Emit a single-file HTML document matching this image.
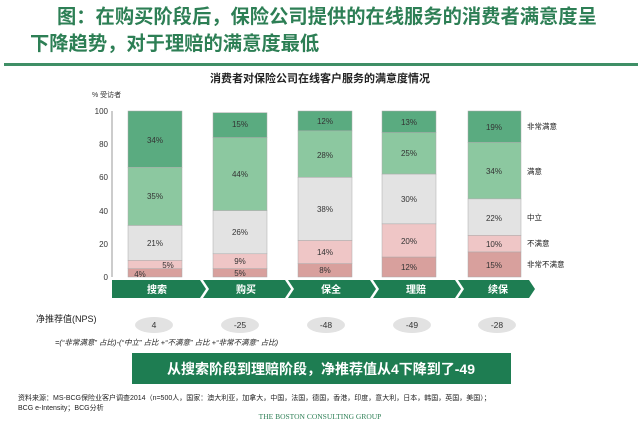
<!DOCTYPE html>
<html><head><meta charset="utf-8"><style>
body{margin:0;background:#fff;width:640px;height:420px;overflow:hidden;font-family:"Liberation Sans","Noto Sans CJK SC",sans-serif}
</style></head><body>
<svg width="640" height="420" xmlns="http://www.w3.org/2000/svg" font-family="Liberation Sans, Noto Sans CJK SC, sans-serif">
<text x="57" y="23" font-size="19.3" font-weight="bold" fill="#2d7f55">图：在购买阶段后，保险公司提供的在线服务的消费者满意度呈</text>
<text x="30" y="50" font-size="19.3" font-weight="bold" fill="#2d7f55">下降趋势，对于理赔的满意度最低</text>
<rect x="4" y="63" width="634" height="3" fill="#3f8f66"/>
<text x="320" y="82" font-size="11" font-weight="bold" text-anchor="middle" fill="#222">消费者对保险公司在线客户服务的满意度情况</text>
<text x="92" y="97" font-size="7" fill="#333">% 受访者</text>
<g font-size="8" fill="#333" text-anchor="end">
<text x="108" y="114">100</text><text x="108" y="147">80</text><text x="108" y="180">60</text><text x="108" y="214">40</text><text x="108" y="247">20</text><text x="108" y="280">0</text>
</g>
<line x1="112" y1="111" x2="112" y2="277" stroke="#999" stroke-width="1"/>
<g font-size="8" fill="#333" text-anchor="middle" stroke="#aaa" stroke-width="0.5">
<rect x="128" y="111" width="54" height="56.4" fill="#5aab80"/>
<rect x="128" y="167.4" width="54" height="58.1" fill="#8cc8a0"/>
<rect x="128" y="225.5" width="54" height="34.9" fill="#e3e3e3"/>
<rect x="128" y="260.4" width="54" height="8.3" fill="#efc6c6"/>
<rect x="128" y="268.7" width="54" height="8.3" fill="#d8a09d"/>
<rect x="213" y="112.7" width="54" height="24.9" fill="#5aab80"/>
<rect x="213" y="137.6" width="54" height="73" fill="#8cc8a0"/>
<rect x="213" y="210.6" width="54" height="43.2" fill="#e3e3e3"/>
<rect x="213" y="253.8" width="54" height="14.9" fill="#efc6c6"/>
<rect x="213" y="268.7" width="54" height="8.3" fill="#d8a09d"/>
<rect x="298" y="111" width="54" height="19.9" fill="#5aab80"/>
<rect x="298" y="130.9" width="54" height="46.5" fill="#8cc8a0"/>
<rect x="298" y="177.4" width="54" height="63.1" fill="#e3e3e3"/>
<rect x="298" y="240.5" width="54" height="23.2" fill="#efc6c6"/>
<rect x="298" y="263.7" width="54" height="13.3" fill="#d8a09d"/>
<rect x="382" y="111" width="54" height="21.6" fill="#5aab80"/>
<rect x="382" y="132.6" width="54" height="41.5" fill="#8cc8a0"/>
<rect x="382" y="174.1" width="54" height="49.8" fill="#e3e3e3"/>
<rect x="382" y="223.9" width="54" height="33.2" fill="#efc6c6"/>
<rect x="382" y="257.1" width="54" height="19.9" fill="#d8a09d"/>
<rect x="468" y="111" width="53" height="31.5" fill="#5aab80"/>
<rect x="468" y="142.5" width="53" height="56.4" fill="#8cc8a0"/>
<rect x="468" y="198.9" width="53" height="36.5" fill="#e3e3e3"/>
<rect x="468" y="235.4" width="53" height="16.6" fill="#efc6c6"/>
<rect x="468" y="252" width="53" height="25" fill="#d8a09d"/>
</g>
<g font-size="8" fill="#333" text-anchor="middle">
<text x="155" y="143">34%</text><text x="155" y="199">35%</text><text x="155" y="246">21%</text><text x="168" y="268">5%</text><text x="140" y="277">4%</text>
<text x="240" y="127">15%</text><text x="240" y="177">44%</text><text x="240" y="235">26%</text><text x="240" y="264">9%</text><text x="240" y="276">5%</text>
<text x="325" y="124">12%</text><text x="325" y="158">28%</text><text x="325" y="212">38%</text><text x="325" y="255">14%</text><text x="325" y="273">8%</text>
<text x="409" y="125">13%</text><text x="409" y="156">25%</text><text x="409" y="202">30%</text><text x="409" y="244">20%</text><text x="409" y="270">12%</text>
<text x="494" y="130">19%</text><text x="494" y="174">34%</text><text x="494" y="221">22%</text><text x="494" y="247">10%</text><text x="494" y="268">15%</text>
</g>
<g font-size="7.5" fill="#222">
<text x="527" y="129">非常满意</text><text x="527" y="174">满意</text><text x="527" y="220">中立</text><text x="527" y="246">不满意</text><text x="527" y="267">非常不满意</text>
</g>
<g fill="#1e7d52">
<polygon points="112,280 200,280 206,289 200,298 112,298"/>
<polygon points="203,280 285,280 291,289 285,298 203,298 209,289"/>
<polygon points="288,280 370,280 376,289 370,298 288,298 294,289"/>
<polygon points="373,280 455,280 461,289 455,298 373,298 379,289"/>
<polygon points="458,280 529,280 535,289 529,298 458,298 464,289"/>
</g>
<g font-size="10" font-weight="bold" fill="#fff" text-anchor="middle">
<text x="157" y="293">搜索</text><text x="246" y="293">购买</text><text x="331" y="293">保全</text><text x="416" y="293">理赔</text><text x="498" y="293">续保</text>
</g>
<text x="36" y="322" font-size="9" fill="#222">净推荐值(NPS)</text>
<g fill="#e2e2e2">
<ellipse cx="154" cy="325" rx="19" ry="8"/><ellipse cx="240" cy="325" rx="19" ry="8"/><ellipse cx="326" cy="325" rx="19" ry="8"/><ellipse cx="412" cy="325" rx="19" ry="8"/><ellipse cx="497" cy="325" rx="19" ry="8"/>
</g>
<g font-size="8.5" fill="#333" text-anchor="middle">
<text x="154" y="328">4</text><text x="240" y="328">-25</text><text x="326" y="328">-48</text><text x="412" y="328">-49</text><text x="497" y="328">-28</text>
</g>
<text x="55" y="345" font-size="7.5" font-style="italic" fill="#222">=(“非常满意” 占比)-(“中立” 占比 +“不满意” 占比 +“非常不满意” 占比)</text>
<rect x="132" y="353" width="379" height="31" fill="#1e7d52"/>
<text x="321" y="374" font-size="14" font-weight="bold" fill="#fff" text-anchor="middle">从搜索阶段到理赔阶段，净推荐值从4下降到了-49</text>
<text x="18" y="400" font-size="7" fill="#222">资料来源：MS-BCG保险业客户调查2014（n=500人，国家：澳大利亚，加拿大，中国，法国，德国，香港，印度，意大利，日本，韩国，英国，美国）；</text>
<text x="18" y="410" font-size="7" fill="#222">BCG e-Intensity；BCG分析</text>
<text x="320" y="419" font-size="7.5" font-family="Liberation Serif, serif" fill="#2d7f55" text-anchor="middle">THE BOSTON CONSULTING GROUP</text>
</svg>
</body></html>
